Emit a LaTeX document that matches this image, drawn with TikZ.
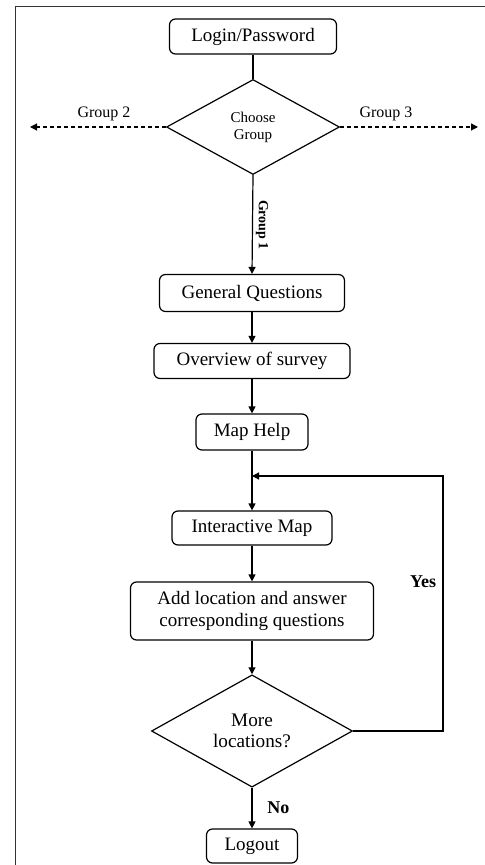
\documentclass[tikz,border=0pt]{standalone}
\usepackage{fontspec}
\setmainfont{Liberation Serif}
\usetikzlibrary{shapes.geometric,arrows.meta}

\tikzset{
  stepbox/.style={draw, rounded corners=3pt, line width=0.6pt, inner sep=0pt,
    align=center, font=\fontsize{9.5}{10.8}\selectfont},
  choice/.style={draw, diamond, line width=0.6pt, inner sep=0pt, align=center},
  flow/.style={line width=0.6pt, -{Triangle[length=3.5pt,width=3.5pt]}},
  side/.style={flow, dash pattern=on 2pt off 1.5pt},
  tag/.style={inner sep=1pt, font=\fontsize{8}{9}\selectfont},
}

\begin{document}
\begin{tikzpicture}[x=0.5pt, y=-0.5pt]
\useasboundingbox (0,0) rectangle (485,865);
\draw[black!80, line width=0.5pt] (15,7) rectangle (495,875);

\node[stepbox, minimum width=83.5pt, minimum height=17.5pt] (login) at (253,36.5) {Login/Password};

\node[choice, minimum width=86.5pt, minimum height=47.5pt, font=\fontsize{7.5}{8.6}\selectfont] (group) at (253,127) {Choose\\Group};

\coordinate (left) at (30,127);
\coordinate (right) at (478,127);

\node[stepbox, minimum width=92.5pt, minimum height=18.5pt] (general) at (252,293) {General Questions};

\node[stepbox, minimum width=98pt, minimum height=17.5pt] (overview) at (252,361) {Overview of survey};

\node[stepbox, minimum width=56pt, minimum height=18pt] (help) at (252,432) {Map Help};

\node[stepbox, minimum width=80pt, minimum height=17pt] (map) at (252,528) {Interactive Map};

\node[stepbox, minimum width=121.5pt, minimum height=29pt] (add) at (252,611) {Add location and answer\\corresponding questions};

\node[choice, minimum width=100.5pt, minimum height=50pt, font=\fontsize{9.6}{10.8}\selectfont] (more) at (252,731) {More\\locations?};

\node[stepbox, minimum width=45.5pt, minimum height=17pt] (logout) at (252,846) {Logout};

\coordinate (join) at (252,476);
\coordinate (back) at (443,476);

\draw[line width=0.6pt] (login) -- (group);
\draw[side] (group.west) -- (left);
\draw[side] (group.east) -- (right);
\node[tag] (two) at (104,114) {Group 2};
\node[tag] (three) at (386,114) {Group 3};
\draw[flow] (group.south) -- (general.north |- general.north);
\node[tag, rotate=-90, font=\fontsize{7}{8}\selectfont\bfseries] (one) at (262,225) {Group 1};
\draw[flow] (general) -- (overview);
\draw[flow] (overview) -- (help);
\draw[flow] (help) -- (map);
\draw[flow] (map) -- (add);
\draw[flow] (add) -- (more);
\draw[flow] (more) -- (logout) node[midway, right=4pt, font=\fontsize{9}{10}\selectfont\bfseries] {No};
\draw[flow] (more.east) -| (back) -- (join);
\node[font=\fontsize{9}{10}\selectfont\bfseries] (yes) at (423,582) {Yes};
\end{tikzpicture}
\end{document}
